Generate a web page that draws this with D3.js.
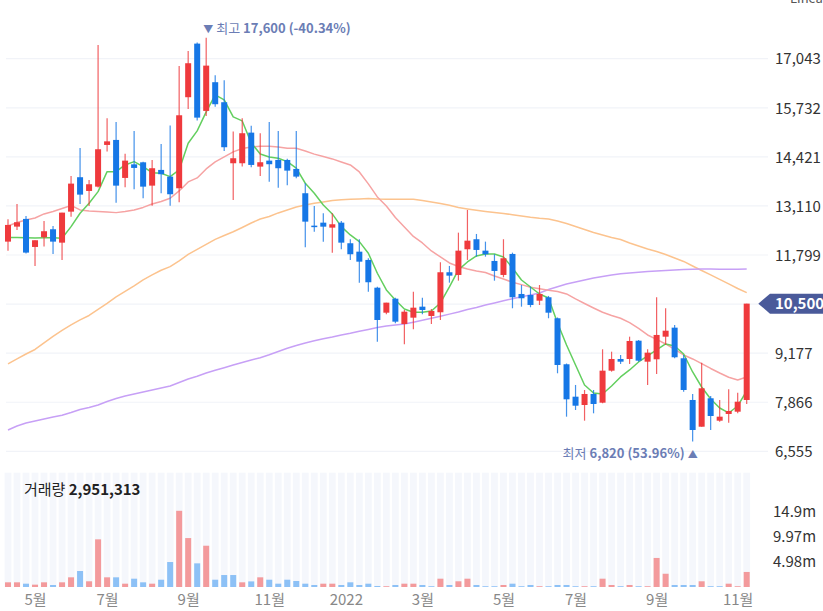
<!DOCTYPE html>
<html><head><meta charset="utf-8">
<script src="https://cdn.jsdelivr.net/npm/d3@7"></script>
<style>
html,body{margin:0;padding:0;background:#fff;}
svg{display:block;}
text{font-family:'Noto Sans CJK KR','Noto Sans',sans-serif;}
</style></head><body>
<svg id="c" width="823" height="611"></svg>
<script>
const opens = [12156,12557,12763,12014,12273,12487,12129,12957,13877,13510,
13625,14739,14873,13858,14221,14275,13652,14072,13893,13582,
16014,17446,15648,16415,15880,14250,14250,15068,14160,14320,
14338,14338,14098,13449,12583,12663,12530,12663,12113,11888,
11667,10926,10258,10632,9956,10125,10419,10170,10269,11338,
11266,11952,12220,11915,11640,11266,11827,10758,10731,10579,
10670,10109,8880,8014,7792,8086,7854,8709,9021,9021,
9510,8949,9013,9617,9858,9040,7926,7212,7971,7373,
7552,7613,7926];
const highs = [12754,13163,12842,12193,12709,12575,12931,13911,14659,13804,
17412,15454,15354,14507,15114,14290,14339,14766,15256,16850,
17251,17473,17600,16602,16468,15095,15453,15255,15052,15354,
15112,14373,15112,13716,13110,12914,12914,12708,12220,12220,
11712,10953,10526,10659,10330,10820,10659,10357,11605,11506,
12396,13002,12361,12156,11819,12220,11862,10998,10953,10998,
10705,10130,8900,8327,8193,8193,9280,9216,9128,9617,
9528,9280,10670,10376,9930,9128,8086,8922,8033,7926,
8212,8121,10500];
const lows = [11915,12468,11840,11506,12023,11827,11667,12824,13163,13110,
13600,14561,13198,13609,13555,13315,13118,13449,13118,13209,
15701,15389,15514,15762,14579,13270,14160,14144,13911,13759,
13598,13663,13850,12006,12423,12156,11862,11952,11667,11060,
10820,9483,10216,9975,9414,9815,10216,9956,10063,11060,
11113,11667,11755,11755,11113,11204,10376,10419,10403,10464,
10109,8639,7480,7659,7373,7570,7838,8682,8888,8888,
8949,8327,8620,9395,9040,8148,6820,7212,7124,7346,
7319,7570,7819];
const closes = [12602,12674,11863,12193,12434,12156,12931,13706,13412,13689,
14624,14835,13652,14320,14125,13625,14117,13957,13422,15532,
16922,15469,16858,15827,14678,14384,15052,14205,14277,14224,
14117,14053,13893,12690,12556,12556,12620,12129,11819,11621,
11071,10063,10526,10018,10285,10392,10330,10304,11338,11247,
11915,12182,11934,11819,11373,11712,10670,10643,10464,10758,
10258,8861,7944,7773,8086,7819,8709,9021,8949,9502,
8976,9190,9663,9777,9067,8193,7124,8238,7498,7480,
7632,7880,10500];
const volumes = [920000,920000,650000,460000,920000,390000,920000,1900000,3140000,1120000,
9350000,1900000,1900000,650000,1630000,920000,650000,1430000,4900000,14950000,
9600000,4640000,8100000,1430000,2350000,2350000,920000,1100000,1900000,1430000,
650000,1430000,1180000,650000,390000,650000,650000,390000,920000,390000,
650000,200000,150000,390000,650000,650000,390000,150000,1630000,390000,
1120000,1630000,390000,150000,150000,390000,650000,150000,390000,150000,
150000,390000,390000,150000,150000,150000,1630000,390000,150000,390000,
150000,150000,5700000,2600000,390000,390000,390000,1120000,150000,150000,
650000,150000,2951313];
const ma5 = [12268,12268,12263,12255,12263,12263,12247,12557,12915,13182,
13492,14026,14026,14205,14293,14160,13999,13983,13893,14072,
14785,15114,15621,16076,15942,15488,15381,14793,14499,14419,
14384,14293,14117,13716,13449,13136,12896,12557,12335,12156,
11846,11311,10865,10598,10358,10269,10269,10304,10518,10945,
11400,11613,11774,11827,11827,11747,11453,11132,10945,10758,
10651,9983,9396,8861,8327,8113,8086,8300,8541,8728,
8941,9102,9262,9422,9369,9155,8674,8273,7953,7712,
7579,7766,8166];
const ma20 = [12575,12669,12736,12789,12896,12963,13043,13123,13003,12976,
12963,12949,12931,12963,13003,13070,13163,13230,13315,13510,
13751,13858,14098,14285,14419,14553,14646,14686,14705,14705,
14686,14651,14651,14579,14494,14432,14366,14285,14205,14018,
13698,13350,13110,12802,12549,12295,12121,11907,11747,11587,
11493,11426,11373,11333,11239,11159,11071,11007,10937,10900,
10857,10825,10758,10625,10504,10384,10269,10184,10109,9991,
9836,9663,9543,9422,9275,9128,9022,8896,8768,8647,
8533,8460,8541];
const ma60 = [8888,9022,9155,9275,9449,9623,9783,9930,10064,10184,
10344,10504,10678,10825,10972,11132,11266,11392,11488,11640,
11814,11947,12081,12215,12321,12420,12535,12655,12762,12829,
12923,13003,13083,13136,13182,13217,13257,13278,13289,13297,
13310,13297,13291,13289,13289,13289,13257,13217,13176,13128,
13070,13030,12995,12963,12936,12909,12875,12842,12808,12781,
12762,12709,12642,12562,12482,12402,12335,12268,12215,12121,
12041,11961,11894,11814,11720,11627,11506,11386,11266,11146,
11026,10905,10793];
const ma120 = [7124,7231,7311,7365,7418,7472,7520,7592,7672,7726,
7792,7886,7966,8033,8086,8140,8193,8247,8300,8394,
8487,8559,8647,8720,8789,8861,8928,8995,9056,9136,
9222,9307,9382,9449,9508,9561,9609,9663,9708,9764,
9810,9861,9903,9930,9957,10005,10058,10109,10162,10219,
10277,10344,10398,10464,10518,10577,10633,10684,10732,10785,
10879,10951,11026,11079,11132,11186,11226,11266,11298,11319,
11341,11360,11373,11386,11400,11413,11421,11426,11426,11421,
11419,11421,11426];
const priceTicks = [6555,7866,9177,10488,11799,13110,14421,15732,17043];
const volTicks = [4983000,9967000,14950000];
const volTickLabels = ["4.98m","9.97m","14.9m"];
const monthTickIdx = [3,11,20,29,37.5,46,55,63,72,81];
const monthTickLabels = ["5월","7월","9월","11월","2022","3월","5월","7월","9월","11월"];
const volumeTitle = "거래량";
const highTitle = "최고";
const lowTitle = "최저";
const scaleLabel = "Linear";

const N = closes.length;
const RED = "#ef3a3d", BLUE = "#1677e6";
const VRED = "#f39a9c", VBLUE = "#8dc1f6";
const svg = d3.select("#c");
const fmt = d3.format(",");

const x = d3.scaleLinear().domain([0, N-1]).range([8, 746.7]);
const y = d3.scaleLinear().domain([6555, 17043]).range([451.3, 58.7]);
const vy = d3.scaleLinear().domain([0, d3.max(volumes)*1.5]).range([587, 472.7]);
const last = closes[N-1];
const ty = y(last);

// price gridlines
svg.append("g").selectAll("line").data(priceTicks).join("line")
  .attr("x1",6).attr("x2",768).attr("y1",d=>y(d)).attr("y2",d=>y(d))
  .attr("stroke","#f1f3f8").attr("stroke-width",1.2);

// volume bands
svg.append("g").selectAll("rect").data(d3.range(N)).join("rect")
  .attr("x",i=>x(i)-3.4).attr("width",6.8)
  .attr("y",vy.range()[1]).attr("height",vy.range()[0]-vy.range()[1])
  .attr("fill","#f5f7fc");

// volume bars
svg.append("g").selectAll("rect").data(d3.range(N)).join("rect")
  .attr("x",i=>x(i)-3).attr("width",6)
  .attr("y",i=>vy(volumes[i])).attr("height",i=>vy(0)-vy(volumes[i]))
  .attr("fill",i=> (i===0 || closes[i]>=closes[i-1]) ? VRED : VBLUE);

// MA lines
const line = arr => d3.line().x((d,i)=>x(i)).y(d=>y(d))(arr);
[[ma60,"#fcc38e"],[ma120,"#c7a0f6"],[ma20,"#f6a3a3"],[ma5,"#63cf5f"]].forEach(([a,c])=>{
  svg.append("path").attr("d",line(a)).attr("fill","none").attr("stroke",c)
    .attr("stroke-width",1.5).attr("stroke-linejoin","round");
});

// candles
const cg = svg.append("g");
cg.selectAll("line").data(d3.range(N)).join("line")
  .attr("x1",i=>x(i)).attr("x2",i=>x(i))
  .attr("y1",i=>y(highs[i])).attr("y2",i=>y(lows[i]))
  .attr("stroke",i=>closes[i]>=opens[i]?RED:BLUE).attr("stroke-width",1.2).attr("opacity",0.8);
cg.selectAll("rect").data(d3.range(N)).join("rect")
  .attr("x",i=>x(i)-3).attr("width",6)
  .attr("y",i=>y(Math.max(opens[i],closes[i])))
  .attr("height",i=>Math.max(1.5, Math.abs(y(opens[i])-y(closes[i]))))
  .attr("fill",i=>closes[i]>=opens[i]?RED:BLUE);

// y axis (price) - labels hidden under the current-price tag are not drawn
const visibleTicks = priceTicks.filter(t => Math.abs(y(t)-ty) > 12);
const yAxis = d3.axisRight(y).tickValues(visibleTicks).tickFormat(fmt).tickSize(0).tickPadding(7);
const ya = svg.append("g").attr("transform","translate(768,0)").call(yAxis);
ya.select(".domain").remove();
ya.attr("font-family",null).attr("font-size",null);
ya.selectAll("text").attr("font-size",15).attr("fill","#333").attr("dy","0.35em");

// volume axis
const vAxis = d3.axisRight(vy).tickValues(volTicks).tickFormat((d,i)=>volTickLabels[i]).tickSize(0).tickPadding(5);
const va = svg.append("g").attr("transform","translate(768,0)").call(vAxis);
va.select(".domain").remove();
va.attr("font-family",null).attr("font-size",null);
va.selectAll("text").attr("font-size",15).attr("fill","#333").attr("dy","0.35em");

// x axis
const xAxis = d3.axisBottom(x).tickValues(monthTickIdx).tickFormat((d,i)=>monthTickLabels[i]).tickSize(0);
const xa = svg.append("g").attr("transform","translate(0,587)").call(xAxis);
xa.select(".domain").remove();
xa.attr("font-family",null).attr("font-size",null);
xa.selectAll("text").attr("font-size",15).attr("fill","#888").attr("y",13).attr("dy","0.35em");

// current price tag
svg.append("path")
  .attr("d",`M758.3,${ty} L770,${ty-10} L823,${ty-10} L823,${ty+10} L770,${ty+10} Z`)
  .attr("fill","#4a5a9a");
svg.append("text").attr("x",775).attr("y",ty).attr("dy","0.35em")
  .attr("font-size",15).attr("font-weight","bold").attr("fill","#fff").text(fmt(last));

// high / low annotations
const hiIdx = d3.maxIndex(highs), loIdx = d3.minIndex(lows);
const hiV = highs[hiIdx], loV = lows[loIdx];
const pct = v => ((last - v)/v*100).toFixed(2) + "%";
const ANN = "#6b7db5";
const ht = svg.append("text").attr("x",x(hiIdx)-3).attr("y",y(hiV)-9).attr("dy","0.35em")
  .attr("font-size",13).attr("fill",ANN);
ht.append("tspan").attr("font-size",10).text("▼");
ht.append("tspan").attr("dx",3).text(highTitle);
ht.append("tspan").attr("dx",3).attr("font-weight","bold").text(`${fmt(hiV)} (${pct(hiV)})`);

const lt = svg.append("text").attr("x",x(loIdx)+5).attr("y",y(loV)+12.5).attr("dy","0.35em")
  .attr("text-anchor","end").attr("font-size",13).attr("fill",ANN);
lt.append("tspan").text(lowTitle);
lt.append("tspan").attr("dx",3).attr("font-weight","bold").text(`${fmt(loV)} (${pct(loV)})`);
lt.append("tspan").attr("dx",3).attr("font-size",10).text("▲");

// volume title
const vt = svg.append("text").attr("x",24).attr("y",489.5).attr("dy","0.35em")
  .attr("font-size",15).attr("fill","#222");
vt.append("tspan").text(volumeTitle + " ");
vt.append("tspan").attr("font-weight","bold").text(fmt(volumes[N-1]));

// scale label (clipped at top, as in the reference)
svg.append("text").attr("x",790).attr("y",3).attr("font-size",13).attr("fill","#555").text(scaleLabel);
</script>
</body></html>
